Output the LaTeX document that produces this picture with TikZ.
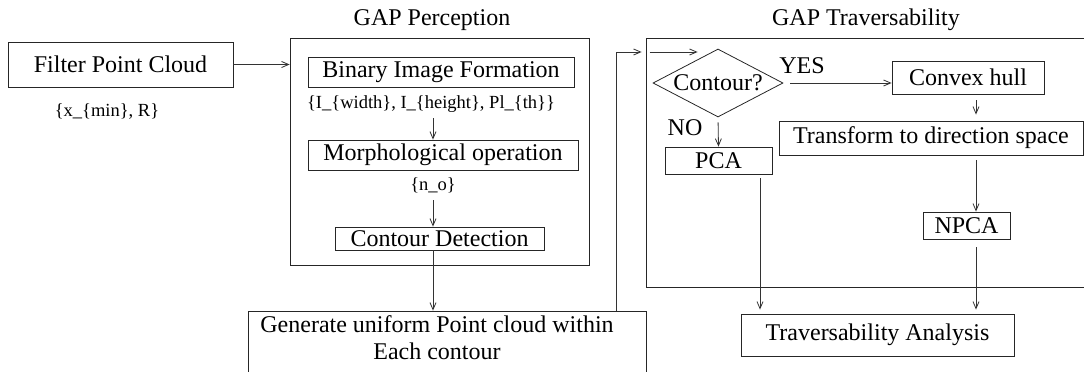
\documentclass[tikz,border=0pt]{standalone}
\usepackage{fontspec}
\setmainfont{Liberation Serif}
\usetikzlibrary{shapes.geometric,arrows.meta}
\begin{document}
\begin{tikzpicture}[x=1pt,y=-1pt,
  every node/.style={font=\fontsize{24}{27}\selectfont, inner sep=0pt},
  box/.style={draw=black!85, line width=0.8pt},
  lbl/.style={font=\fontsize{18.5}{21}\selectfont},
  ln/.style={draw=black!80, line width=0.8pt},
  arr/.style={ln, -{Straight Barb[length=7pt,width=6pt]}}]
\useasboundingbox (0,0) rectangle (1084,372);
\clip (0,0) rectangle (1084,372);
% left
\node[box, minimum width=225pt, minimum height=45pt] (filter) at (120.5,64.5) {Filter Point Cloud};
\node[lbl] (xlab) at (107,112) {\{x\_\{min\}, R\}};
% perception
\node (ptitle) at (432,20) {GAP Perception};
\node[box, minimum width=299pt, minimum height=227pt] (percep) at (439.5,151.5) {};
\node[box, minimum width=266pt, minimum height=30pt] (bin) at (441,72) {Binary Image Formation};
\node[lbl] (lab1) at (431,104) {\{I\_\{width\}, I\_\{height\}, Pl\_\{th\}\}};
\node[box, minimum width=270pt, minimum height=30pt] (morph) at (443,155) {Morphological operation};
\node[lbl] (lab2) at (433,185) {\{n\_o\}};
\node[box, minimum width=209pt, minimum height=23pt] (cd) at (439.5,238.5) {Contour Detection};
% generate
\node[box, minimum width=398pt, minimum height=80pt] (gen) at (447,351) {};
\node[align=center] (gentext) at (437,338) {Generate uniform Point cloud within\\Each contour};
% traversability
\node (ttitle) at (866,20) {GAP Traversability};
\node[box, minimum width=444pt, minimum height=249pt] (trav) at (868,162.5) {};
\node[box, diamond, aspect=1.9, minimum width=130pt, minimum height=68pt] (dia) at (718,83) {Contour?};
\node (yes) at (802,66) {YES};
\node (no) at (685,128) {NO};
\node[box, minimum width=152pt, minimum height=33pt] (hull) at (968,77.5) {Convex hull};
\node[box, minimum width=304pt, minimum height=34pt] (trans) at (931,138) {Transform to direction space};
\node[box, minimum width=107pt, minimum height=27pt] (pca) at (718.5,160.5) {PCA};
\node[box, minimum width=87pt, minimum height=27pt] (npca) at (966.5,225.5) {NPCA};
\node[box, minimum width=273pt, minimum height=42pt] (ta) at (877.5,335) {Traversability Analysis};
% coordinates
\coordinate (a1) at (433,118);
\coordinate (a2) at (433,200);
\coordinate (a3) at (433,250);
\coordinate (g1) at (616,311);
\coordinate (g2) at (616,52);
\coordinate (t1) at (976,94);
\coordinate (t2) at (976,155);
\coordinate (p1) at (760,174);
\coordinate (n1) at (976,239);
% connectors
\draw[arr] (filter.east) -- (filter.east -| percep.west);
\draw[arr] (a1) -- (a1 |- morph.north);
\draw[arr] (a2) -- (a2 |- cd.north);
\draw[arr] (a3) -- (a3 |- gen.north);
\draw[arr, shorten >=4pt] (g1) -- (g2) -- (g2 -| trav.west);
\draw[arr, shorten <=4pt] (g2 -| trav.west) -- ++(52,0);
\draw[arr, shorten <=7pt] (dia.east) -- (dia.east -| hull.west);
\draw[arr, shorten <=6pt, shorten >=6pt] (t1) -- (t1 |- trans.north);
\draw[arr, shorten <=5pt, shorten >=0pt] (dia.south) -- (pca.north);
\draw[arr, shorten <=5pt] (t2) -- (t2 |- npca.north);
\draw[arr, shorten <=4pt, shorten >=4pt] (p1) -- (p1 |- ta.north);
\draw[arr, shorten <=8pt, shorten >=4pt] (n1) -- (n1 |- ta.north);
\end{tikzpicture}
\end{document}
